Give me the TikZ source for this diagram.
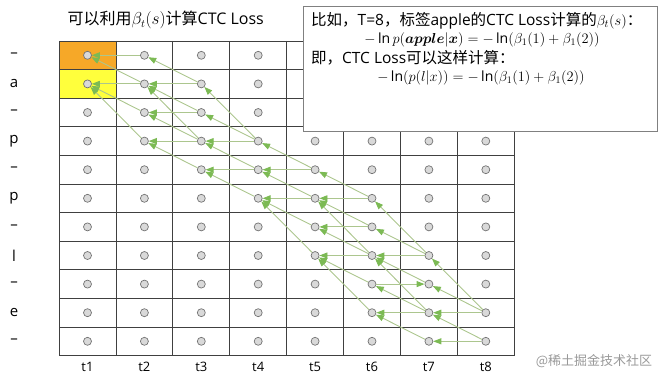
\documentclass[tikz,border=0pt]{standalone}
\usepackage{amsmath}
\usepackage{fontspec}
\setmainfont{Open Sans}
\newfontfamily\cjk{Noto Sans CJK SC}
\usetikzlibrary{arrows.meta}

\definecolor{cellorange}{RGB}{246,168,40}
\definecolor{cellyellow}{RGB}{255,255,60}
\definecolor{linkgreen}{RGB}{172,198,142}
\definecolor{headgreen}{RGB}{124,186,84}

\tikzset{
  dot/.style={circle,draw=black!55,fill=black!15,line width=0.7pt,minimum size=8pt,inner sep=0pt},
  link/.style={draw=linkgreen,line width=0.9pt,-{Triangle[length=8pt,width=6pt,color=headgreen]}},
  gridline/.style={draw=black!75,line width=0.8pt},
  rowlab/.style={font=\fontsize{15}{18}\selectfont},
  timelab/.style={font=\fontsize{13}{16}\selectfont},
  infobox/.style={draw=black!50,fill=white,line width=0.9pt,minimum width=354pt,minimum height=125pt,inner sep=0pt},
  boxtext/.style={font=\fontsize{15.5}{18}\selectfont,inner sep=0pt},
  mathtext/.style={font=\fontsize{14}{16}\selectfont,inner sep=0pt}
}

\begin{document}
\begin{tikzpicture}[x=1pt,y=-1pt]
\useasboundingbox (0,0) rectangle (666,382);

% title
\node[font=\fontsize{16}{18}\selectfont,anchor=west] (title) at (64,20)
  {{\cjk 可以利用}$\beta_t(s)${\cjk 计算}CTC Loss};

% cells and grid
\fill[cellorange] (59,41) rectangle (115.9,69.6);
\fill[cellyellow] (59,69.6) rectangle (115.9,98.2);
\foreach \i in {0,...,8}
  \draw[gridline] (59+56.9*\i,41) -- (59+56.9*\i,355.6);
\foreach \j in {0,...,11}
  \draw[gridline] (59,41+28.6*\j) -- (514.2,41+28.6*\j);

% row labels
\foreach \s/\lab in {0/–,1/a,2/–,3/p,4/–,5/p,6/–,7/l,8/–,9/e,10/–}
  \node[rowlab] (lab\s) at (14,55.3+28.6*\s) {\lab};

% time labels and states
\foreach \t in {1,...,8} {
  \node[timelab] (time\t) at (87.5+56.9*\t-56.9,367) {t\t};
  \foreach \s in {0,...,10}
    \node[dot] (c\t-\s) at (87.5+56.9*\t-56.9,55.3+28.6*\s) {};
}

% beta recursion, t+1 -> t
\foreach \a/\b in {0/0,1/1,1/0,2/1,3/1}
  \draw[link] (c2-\a) -- (c1-\b);
\foreach \a/\b in {1/1,1/0,2/2,2/1,3/3,3/2,3/1,4/3}
  \draw[link] (c3-\a) -- (c2-\b);
\foreach \a/\b in {3/3,3/2,3/1,4/4,4/3,5/4}
  \draw[link] (c4-\a) -- (c3-\b);
\foreach \a/\b in {4/4,4/3,5/5,5/4,6/5,7/5}
  \draw[link] (c5-\a) -- (c4-\b);
\foreach \a/\b in {5/5,5/4,6/6,6/5,7/7,7/6,7/5,8/7,9/7}
  \draw[link] (c6-\a) -- (c5-\b);
\foreach \a/\b in {7/7,7/6,7/5,8/7,9/9,9/8,9/7,10/9}
  \draw[link] (c7-\a) -- (c6-\b);
\draw[link] (c6-8) -- (c7-8);
\foreach \a/\b in {9/9,9/8,9/7,10/10,10/9}
  \draw[link] (c8-\a) -- (c7-\b);

% example box
\node[infobox,anchor=north west] (info) at (303,6) {};
\node[boxtext,anchor=west] (line1) at (311,21)
  {{\cjk 比如，}T=8{\cjk ，标签}apple{\cjk 的}CTC Loss{\cjk 计算的}$\beta_t(s)${\cjk ：}};
\node[mathtext] (line2) at (482,40)
  {$-\ln p(\boldsymbol{apple}|\boldsymbol{x})=-\ln(\beta_1(1)+\beta_1(2))$};
\node[boxtext,anchor=west] (line3) at (311,58)
  {{\cjk 即，}CTC Loss{\cjk 可以这样计算：}};
\node[mathtext] (line4) at (481,78)
  {$-\ln\!\left(p(l|x)\right)=-\ln(\beta_1(1)+\beta_1(2))$};

% watermark
\node[text=black!40,font=\fontsize{13}{15}\selectfont\cjk] (mark) at (594,361) {@稀土掘金技术社区};
\end{tikzpicture}
\end{document}
